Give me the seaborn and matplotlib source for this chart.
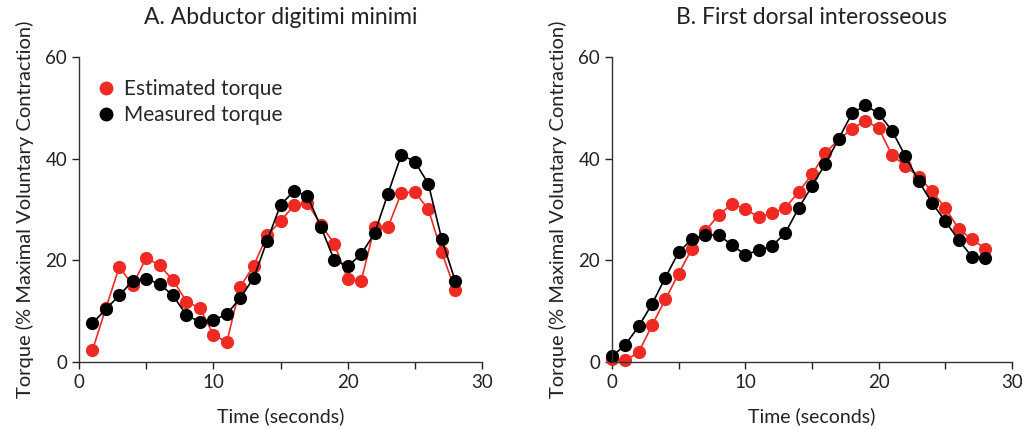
import numpy as np
import pandas as pd
import matplotlib
matplotlib.use('Agg')
import matplotlib.pyplot as plt
from matplotlib.lines import Line2D
import seaborn as sns

# Panel A: abductor digitimi minimi
time_a = list(range(1, 29))
est_a = [2.3, 10.6, 18.7, 15.1, 20.5, 19.0, 16.1, 11.9, 10.6, 5.4, 3.9, 14.8, 18.9, 24.9,
         27.7, 30.8, 31.3, 27.0, 23.3, 16.3, 15.9, 26.5, 26.5, 33.3, 33.4, 30.1, 21.6, 14.2]
meas_a = [7.6, 10.4, 13.1, 16.0, 16.4, 15.3, 13.1, 9.2, 7.9, 8.2, 9.4, 12.6, 16.5, 23.8,
          30.9, 33.6, 32.7, 26.6, 20.1, 18.8, 21.2, 25.3, 33.1, 40.8, 39.4, 35.1, 24.2, 16.0]

# Panel B: first dorsal interosseous
time_b = list(range(0, 29))
est_b = [0.5, 0.3, 1.9, 7.2, 12.3, 17.4, 22.3, 25.8, 28.9, 31.1, 30.1, 28.5, 29.3, 30.3, 33.5,
         36.9, 41.1, 43.8, 45.8, 47.5, 46.0, 40.7, 38.6, 36.4, 33.6, 30.3, 26.2, 24.1, 22.3]
meas_b = [1.1, 3.4, 7.0, 11.4, 16.6, 21.6, 24.2, 25.0, 25.0, 23.0, 21.1, 22.0, 22.8, 25.4, 30.3,
          34.6, 39.0, 43.9, 48.9, 50.5, 48.9, 45.5, 40.5, 35.6, 31.3, 27.7, 24.0, 20.7, 20.5]

titles = ['A. Abductor digitimi minimi', 'B. First dorsal interosseous']
red = '#ee2a22'

sns.set_theme(style='ticks')
plt.rcParams['font.family'] = ['Lato', 'DejaVu Sans']

fig = plt.figure(figsize=(10.22, 4.3), dpi=100)
ax_a = fig.add_axes([79 / 1022, 1 - 362 / 430, 403 / 1022, 305 / 430])
ax_b = fig.add_axes([612 / 1022, 1 - 362 / 430, 400 / 1022, 305 / 430])

panels = [(ax_a, time_a, est_a, meas_a), (ax_b, time_b, est_b, meas_b)]
for i, (ax, t, est, meas) in enumerate(panels):
    sns.lineplot(x=t, y=est, ax=ax, color=red, marker='o', markersize=9.5,
                 markeredgewidth=0, linewidth=1.2, clip_on=False)
    sns.lineplot(x=t, y=meas, ax=ax, color='black', marker='o', markersize=9.5,
                 markeredgewidth=0, linewidth=1.2, clip_on=False)
    ax.set_xlim(0, 30)
    ax.set_ylim(0, 60)
    ax.set_xticks([0, 5, 10, 15, 20, 25, 30])
    ax.set_xticklabels(['0', '', '10', '', '20', '', '30'])
    ax.set_yticks([0, 20, 40, 60])
    ax.tick_params(labelsize=13.5, colors='#222222', length=5, width=1)
    for s in ['left', 'bottom']:
        ax.spines[s].set_color('#333333')
        ax.spines[s].set_linewidth(1)
    sns.despine(ax=ax)
    ax.set_xlabel('Time (seconds)', fontsize=14, labelpad=12, color='#222222')
    ax.set_ylabel('Torque (% Maximal Voluntary Contraction)', fontsize=14.5, color='#222222',
                  labelpad=8)
    ax.set_title(titles[i], fontsize=16.5, pad=24, color='#222222')

handles = [
    Line2D([], [], marker='o', linestyle='none', markersize=10, color=red, markeredgewidth=0),
    Line2D([], [], marker='o', linestyle='none', markersize=10, color='black', markeredgewidth=0),
]
ax_a.legend(handles, ['Estimated torque', 'Measured torque'], loc='upper left',
            frameon=False, fontsize=15, handletextpad=0.25, handlelength=1.2,
            bbox_to_anchor=(-0.01, 0.99), labelspacing=0.3)

fig.savefig('out.png', dpi=100)
